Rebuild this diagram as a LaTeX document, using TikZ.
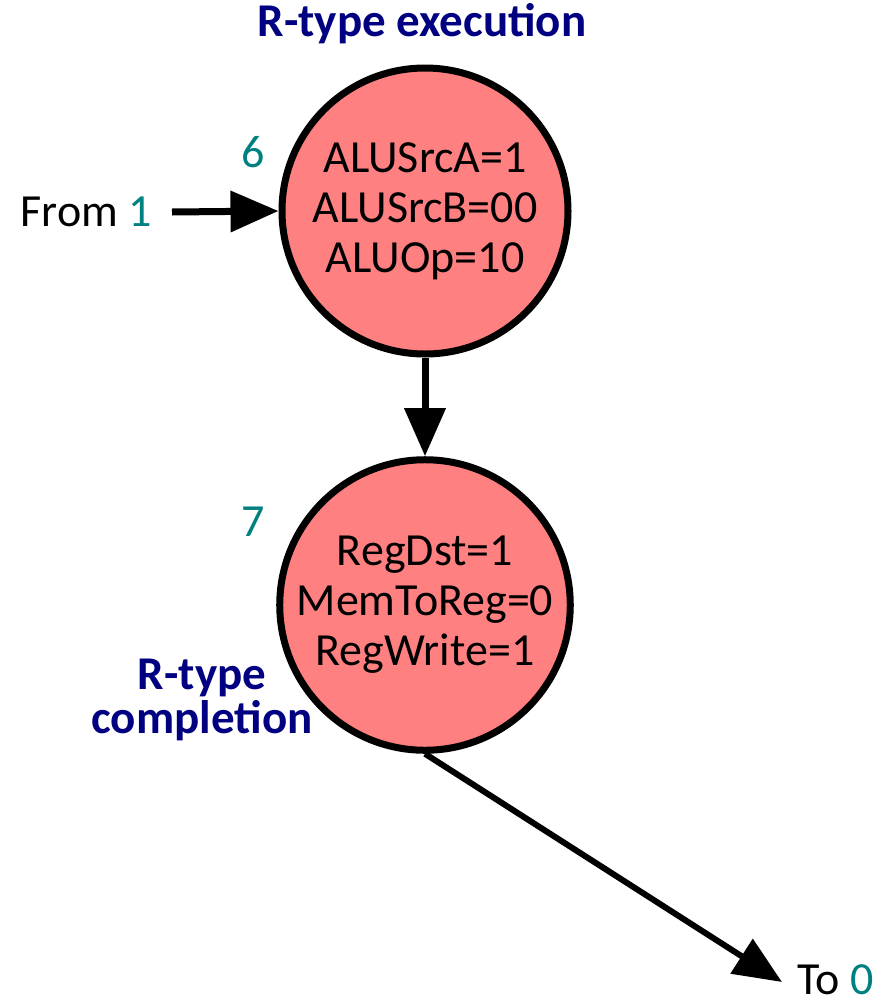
\documentclass[tikz,border=0pt]{standalone}
\usepackage{fontspec}
\setmainfont{Carlito}
\usetikzlibrary{arrows.meta}
\definecolor{statefill}{RGB}{255,128,128}
\definecolor{statenum}{RGB}{0,128,128}
\definecolor{titlecol}{RGB}{0,0,128}
\newcommand{\bigtext}{\fontsize{46}{50}\selectfont}
\tikzset{
  state/.style={circle, draw=black, line width=7pt, fill=statefill,
    minimum size=286pt, inner sep=0pt, align=center, font=\bigtext},
  num/.style={text=statenum, font=\bigtext},
  title/.style={text=titlecol, align=center, font=\bfseries\fontsize{47}{44}\selectfont},
  plain/.style={font=\bigtext, inner sep=0pt},
  flow/.style={line width=7pt, -{Triangle[length=48pt,width=40pt]}},
}
\begin{document}
\begin{tikzpicture}[x=1pt,y=-1pt]
  \useasboundingbox (0,0) rectangle (884,1007);
  % states
  \node[state] (s6) at (425,211) {ALUSrcA=1\\ALUSrcB=00\\ALUOp=10};
  \node[state] (s7) at (425,605) {RegDst=1\\MemToReg=0\\RegWrite=1};
  % state numbers
  \node[num] (n6) at (253,152) {6};
  \node[num] (n7) at (253,522) {7};
  % state names
  \node[title] (t6) at (422,24) {R-type execution};
  \node[title] (t7) at (202,700) {R-type\\completion};
  % entry and exit labels
  \node[plain, anchor=east] (from) at (152,212) {From \textcolor{statenum}{1}};
  \node[plain, anchor=west] (to) at (797,980) {To \textcolor{statenum}{0}};
  \coordinate (fromend) at (172,212);
  \coordinate (toend) at (782,982);
  % transitions
  \draw[flow] (fromend) -- (s6.west);
  \draw[flow] (s6.south) -- (s7.north);
  \draw[flow, line width=6pt] (s7.south) -- (toend);
\end{tikzpicture}
\end{document}
